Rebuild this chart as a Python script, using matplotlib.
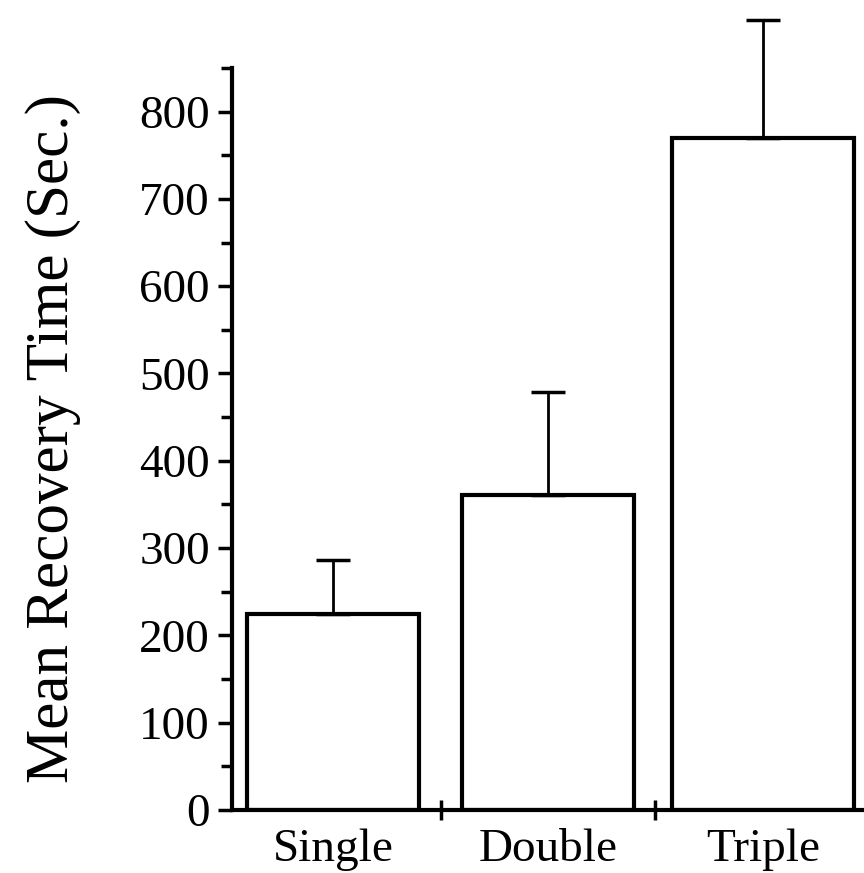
import matplotlib
matplotlib.use("Agg")
import matplotlib.pyplot as plt
import numpy as np

#data
groups = ["Single", "Double", "Triple"]
mean_time = [224, 361, 770]
err_up = [62, 118, 135]

plt.rcParams['font.family'] = ['Liberation Serif', 'DejaVu Serif']

fig = plt.figure(figsize=(8.64, 8.73), dpi=100)
ax = fig.add_axes([0.2685, 0.0722, 0.7315, 0.85])

x = np.arange(len(groups))
ax.bar(x, mean_time, width=[0.8, 0.8, 0.85], color='white', edgecolor='black', linewidth=3)
ax.errorbar(x, mean_time, yerr=[np.zeros(len(groups)), err_up], fmt='none',
            ecolor='black', elinewidth=2, capsize=12, capthick=2.5, clip_on=False)

ax.set_xlim(-0.47, 2.47)
ax.set_ylim(0, 850)

ax.spines['top'].set_visible(False)
ax.spines['right'].set_visible(False)
ax.spines['left'].set_linewidth(3)
ax.spines['bottom'].set_linewidth(3)

ax.set_yticks(np.arange(0, 801, 100))
ax.set_yticks(np.arange(50, 851, 100), minor=True)
ax.tick_params(axis='y', which='major', direction='out', length=10, width=2.5, labelsize=34, pad=6)
ax.tick_params(axis='y', which='minor', direction='out', length=8, width=2.5)

ax.set_xticks([0.5, 1.5], minor=True)
ax.set_xticks(x)
ax.set_xticklabels(groups)
ax.tick_params(axis='x', which='major', length=0, labelsize=34, pad=13)
ax.tick_params(axis='x', which='minor', direction='inout', length=14, width=2.5)

ax.set_ylabel("Mean Recovery Time (Sec.)", fontsize=44, labelpad=42)

fig.savefig("out.png", dpi=100)
